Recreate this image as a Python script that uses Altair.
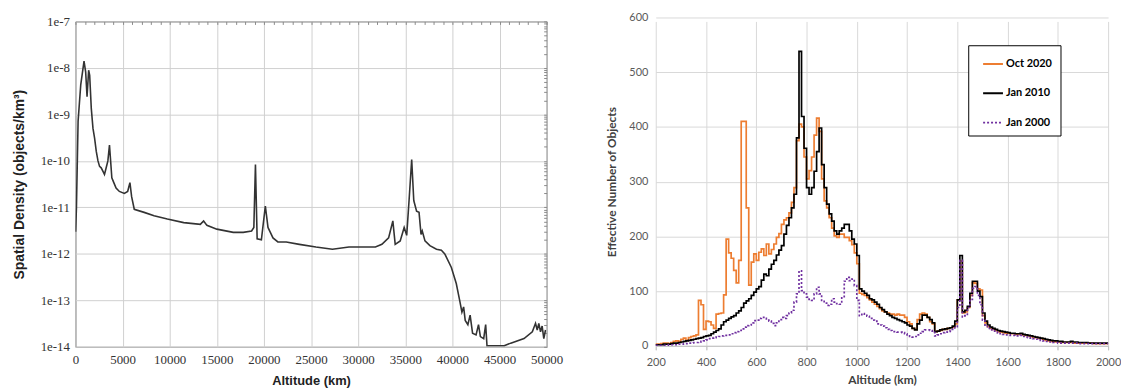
import altair as alt
import pandas as pd

# ---------------- Left panel: spatial density vs altitude ----------------
LEFT_ALT = [20, 105, 280, 560, 910, 1085, 1230, 1400, 1510, 1680, 1860, 2030, 2210, 2390,
            2560, 2730, 2910, 3080, 3260, 3440, 3610, 3710, 3860, 4070, 4310, 4660, 5190,
            5540, 5780, 5960, 6240, 7290, 8340, 9750, 11490, 13250, 13600, 13950, 15000,
            16750, 17800, 18690, 18930, 19100, 19280, 19730, 20150, 20430, 20680, 20960,
            21480, 22370, 23760, 25520, 27270, 29020, 30070, 31830, 32520, 33230, 33680,
            33930, 34460, 34880, 35150, 35400, 35680, 35900, 36200, 36460, 36670, 36800,
            37090, 37610, 38310, 38830, 39190, 39890, 40410, 40770, 41010, 41190, 41360,
            41640, 41880, 42140, 42510, 42770, 42970, 43320, 43530, 43670, 45500, 46190,
            47600, 48480, 48820, 49000, 49170, 49350, 49520, 49700, 49880]
LEFT_DENSITY = [3.0e-12, 1.0e-11, 7.1e-10, 4.3e-9, 1.4e-8, 8.1e-9, 2.4e-9, 8.9e-9, 6.9e-9,
                1.35e-9, 5.0e-10, 3.1e-10, 1.6e-10, 1.0e-10, 7.6e-11, 7.1e-11, 6.0e-11,
                5.1e-11, 7.1e-11, 1.0e-10, 2.2e-10, 1.15e-10, 4.3e-11, 3.4e-11, 2.6e-11,
                2.2e-11, 2.0e-11, 2.2e-11, 3.4e-11, 1.7e-11, 9.1e-12, 7.8e-12, 6.6e-12,
                5.6e-12, 4.7e-12, 4.3e-12, 5.1e-12, 4.1e-12, 3.4e-12, 2.9e-12, 2.9e-12,
                3.1e-12, 3.7e-12, 8.3e-11, 2.1e-12, 2.0e-12, 1.07e-11, 3.7e-12, 2.9e-12,
                2.2e-12, 1.8e-12, 1.8e-12, 1.6e-12, 1.4e-12, 1.26e-12, 1.4e-12, 1.4e-12,
                1.4e-12, 1.6e-12, 2.2e-12, 5.1e-12, 1.6e-12, 1.9e-12, 3.7e-12, 2.5e-12,
                1.4e-11, 1.07e-10, 1.4e-11, 8.3e-12, 7.8e-12, 2.6e-12, 3.1e-12, 1.9e-12,
                1.5e-12, 1.26e-12, 1.2e-12, 1.0e-12, 5.1e-13, 2.3e-13, 1.0e-13, 5.6e-14,
                7.2e-14, 3.7e-14, 3.0e-14, 4.8e-14, 1.95e-14, 1.8e-14, 3.0e-14, 1.66e-14,
                1.5e-14, 3.0e-14, 1.05e-14, 1.05e-14, 1.2e-14, 1.5e-14, 2.1e-14, 3.2e-14,
                2.3e-14, 3.2e-14, 2.1e-14, 2.8e-14, 1.5e-14, 2.3e-14]
LEFT_X_TICKS = [0, 5000, 10000, 15000, 20000, 25000, 30000, 35000, 40000, 45000, 50000]
LEFT_Y_TICKS = [1e-14, 1e-13, 1e-12, 1e-11, 1e-10, 1e-9, 1e-8, 1e-7]
LEFT_X_MINOR = list(range(0, 50001, 1000))
LEFT_Y_MINOR = [m * d for d in [1e-14, 1e-13, 1e-12, 1e-11, 1e-10, 1e-9, 1e-8]
                for m in [1, 2, 3, 4, 5, 6, 7, 8, 9]] + [1e-7]

# ---------------- Right panel: effective number of objects (10 km bins) ----------------
BIN_START = list(range(200, 2000, 10))
BIN_END = 2000
OCT_2020 = [
    3, 3, 4, 5, 5, 4, 6, 8, 9, 8,                     # 200s
    12, 14, 10, 15, 17, 18, 20, 83, 75, 30,           # 300s
    45, 44, 38, 32, 58, 59, 60, 93, 195, 170,         # 400s
    160, 138, 115, 156, 410, 410, 252, 111, 153, 168,  # 500s
    156, 171, 177, 165, 186, 168, 176, 186, 198, 205,  # 600s
    222, 230, 234, 243, 262, 289, 375, 405, 400, 345,  # 700s
    305, 320, 345, 385, 416, 392, 305, 265, 252, 234,  # 800s
    215, 201, 198, 204, 204, 198, 198, 192, 185, 170,  # 900s
    150, 96, 94, 92, 88, 84, 80, 76, 72, 68,           # 1000s
    64, 62, 60, 58, 58, 56, 58, 56, 56, 52,            # 1100s
    44, 40, 32, 30, 48, 58, 60, 58, 52, 44,            # 1200s
    40, 26, 27, 28, 30, 30, 32, 33, 34, 40,            # 1300s
    84, 155, 60, 62, 70, 92, 115, 114, 104, 102,       # 1400s
    55, 42, 35, 32, 30, 28, 26, 25, 24, 23,            # 1500s
    23, 22, 22, 21, 22, 21, 20, 19, 18, 17,            # 1600s
    16, 15, 14, 13, 12, 10, 9, 8, 8, 7,                # 1700s
    7, 6, 6, 6, 6, 6, 5, 5, 5, 5,                      # 1800s
    5, 5, 5, 5, 4, 4, 4, 4, 4, 4,                      # 1900s
]
JAN_2010 = [
    2, 2, 2, 3, 3, 3, 4, 5, 5, 6,
    7, 8, 9, 10, 11, 12, 13, 14, 15, 17,
    18, 19, 22, 25, 28, 31, 38, 44, 47, 50,
    53, 55, 60, 64, 70, 78, 82, 86, 92, 98,
    104, 108, 120, 131, 128, 140, 149, 156, 166, 175,
    183, 204, 220, 234, 252, 277, 380, 538, 419, 361,
    289, 277, 289, 319, 355, 398, 331, 289, 259, 241,
    228, 210, 204, 210, 215, 222, 222, 210, 195, 186,
    165, 104, 100, 96, 92, 86, 84, 80, 76, 70,
    66, 62, 58, 55, 52, 50, 48, 46, 44, 42,
    38, 36, 32, 29, 40, 47, 56, 56, 52, 48,
    42, 26, 27, 29, 30, 31, 32, 33, 36, 45,
    84, 165, 62, 65, 72, 96, 118, 118, 100, 90,
    60, 45, 38, 34, 32, 30, 28, 27, 26, 25,
    24, 23, 23, 22, 22, 23, 21, 20, 19, 18,
    17, 16, 15, 14, 13, 12, 11, 10, 9, 9,
    8, 8, 7, 7, 7, 8, 7, 7, 6, 6,
    6, 6, 5, 5, 5, 5, 5, 5, 5, 5,
]
JAN_2000 = [
    1, 1, 1, 1, 1, 2, 2, 2, 2, 3,
    3, 4, 4, 5, 5, 6, 6, 7, 8, 9,
    11, 13, 14, 15, 16, 17, 18, 19, 19, 20,
    22, 24, 26, 28, 31, 34, 37, 38, 42, 46,
    47, 50, 52, 50, 47, 45, 41, 37, 42, 48,
    52, 50, 55, 60, 65, 80, 95, 137, 101, 95,
    89, 85, 83, 95, 107, 95, 83, 78, 74, 76,
    86, 80, 77, 76, 90, 118, 125, 119, 122, 110,
    83, 55, 59, 58, 54, 50, 47, 45, 40, 38,
    36, 33, 30, 28, 26, 26, 25, 25, 24, 22,
    18, 17, 16, 17, 20, 23, 26, 29, 29, 28,
    27, 18, 20, 22, 24, 25, 26, 27, 30, 35,
    70, 156, 53, 55, 70, 85, 105, 108, 92, 75,
    47, 36, 32, 29, 27, 25, 23, 22, 21, 20,
    20, 19, 19, 18, 18, 19, 17, 16, 15, 14,
    13, 12, 11, 10, 9, 8, 7, 7, 6, 6,
    5, 5, 5, 5, 5, 5, 5, 5, 4, 4,
    4, 4, 4, 4, 4, 4, 4, 4, 4, 4,
]
SERIES_NAMES = ["Oct 2020", "Jan 2010", "Jan 2000"]
SERIES_COLORS = ["#ED7D31", "#000000", "#7030A0"]
SERIES_DASH = [[1, 0], [1, 0], [2, 2]]
RIGHT_X_TICKS = [200, 400, 600, 800, 1000, 1200, 1400, 1600, 1800, 2000]
RIGHT_Y_TICKS = [0, 100, 200, 300, 400, 500, 600]

# ---------------- build tables ----------------
left_df = pd.DataFrame({"alt": LEFT_ALT, "dens": LEFT_DENSITY})

rows = []
for k, (name, vals) in enumerate(zip(SERIES_NAMES, [OCT_2020, JAN_2010, JAN_2000])):
    for a, v in zip(BIN_START, vals):
        rows.append({"alt": a, "value": v, "series": name, "k": k})
    rows.append({"alt": BIN_END, "value": vals[-1], "series": name, "k": k})
right_df = pd.DataFrame(rows)

LFONT = "Liberation Sans Narrow"
RFONT = "Lato"

left_xscale = alt.Scale(domain=[0, 50000], nice=False, zero=False)
left_yscale = alt.Scale(type="log", domain=[1e-14, 1e-7], nice=False)

# ---------------- left chart ----------------
left_line = alt.Chart(left_df).mark_line(color="#333333", strokeWidth=1.6, clip=True).encode(
    x=alt.X("alt:Q", scale=left_xscale,
            axis=alt.Axis(values=LEFT_X_TICKS, format="d", title="Altitude (km)",
                          labelFlush=False, ticks=False, domain=False, labelPadding=7,
                          gridColor="#cfcfcf", labelFont=LFONT, labelFontSize=13,
                          labelColor="#333333", titleFont="Liberation Sans",
                          titleFontSize=13, titleFontWeight="bold", titleColor="#222222",
                          titlePadding=8)),
    y=alt.Y("dens:Q", scale=left_yscale,
            axis=alt.Axis(values=LEFT_Y_TICKS,
                          labelExpr="'1e' + round(log(datum.value) / LN10)",
                          title="Spatial Density (objects/km³)",
                          ticks=False, domain=False, labelPadding=6,
                          gridColor="#cfcfcf", labelFont=LFONT, labelFontSize=13,
                          labelColor="#333333", titleFont="Liberation Sans",
                          titleFontSize=14, titleFontWeight="bold", titleColor="#222222",
                          titlePadding=14)),
)
# minor tick marks drawn just inside the top and right edges of the frame
left_minor = alt.Chart(left_df).mark_point(opacity=0).encode(
    x=alt.X("alt:Q", scale=left_xscale,
            axis=alt.Axis(orient="top", values=LEFT_X_MINOR, labels=False, domain=False,
                          grid=False, tickSize=3, tickColor="#8a8a8a", offset=-3,
                          title=None)),
    y=alt.Y("dens:Q", scale=left_yscale,
            axis=alt.Axis(orient="right", values=LEFT_Y_MINOR, labels=False, domain=False,
                          grid=False, tickSize=3, tickColor="#8a8a8a", offset=-3,
                          title=None)),
)
left_spacer = alt.Chart(left_df).mark_rule(opacity=0).encode(
    x=alt.value(0), y=alt.value(-10), y2=alt.value(0)
)
left = alt.layer(left_line, left_minor, left_spacer).resolve_axis(
    x="independent", y="independent"
).properties(
    width=475, height=328,
    view=alt.ViewBackground(stroke="#555555", strokeWidth=1),
)

# ---------------- right chart ----------------
legend = alt.Legend(
    title=None, orient="none", legendX=900, legendY=24,
    strokeColor="#000000", fillColor="#ffffff", padding=8, symbolOffset=6,
    symbolType="stroke", symbolSize=400, symbolStrokeWidth=2,
    labelFont=RFONT, labelFontSize=11, labelFontWeight="bold", labelColor="#000000",
    labelOffset=2, rowPadding=13.5, cornerRadius=0,
)
right = alt.Chart(right_df).mark_line(interpolate="step-after", strokeWidth=1.7).encode(
    x=alt.X("alt:Q",
            scale=alt.Scale(domain=[200, 2000], nice=False, zero=False),
            axis=alt.Axis(values=RIGHT_X_TICKS, format="d", title="Altitude (km)",
                          labelFlush=False, gridColor="#d9d9d9", domainColor="#bfbfbf",
                          tickColor="#bfbfbf", tickSize=4, labelPadding=7,
                          labelFont=RFONT, labelFontSize=11, labelColor="#595959",
                          titleFont=RFONT, titleFontSize=12, titleFontWeight="bold",
                          titleColor="#404040", titlePadding=7)),
    y=alt.Y("value:Q",
            scale=alt.Scale(domain=[0, 600], range=[327, -4], nice=False),
            axis=alt.Axis(values=RIGHT_Y_TICKS, title="Effective Number of Objects",
                          domain=False, ticks=False, labelPadding=8,
                          gridColor="#d9d9d9", labelFont=RFONT, labelFontSize=11,
                          labelColor="#595959", titleFont=RFONT, titleFontSize=12,
                          titleFontWeight="bold", titleColor="#404040", titlePadding=10)),
    color=alt.Color("series:N", scale=alt.Scale(domain=SERIES_NAMES, range=SERIES_COLORS),
                    legend=legend),
    strokeDash=alt.StrokeDash("series:N",
                              scale=alt.Scale(domain=SERIES_NAMES, range=SERIES_DASH),
                              legend=legend),
    order=alt.Order("k:Q"),
).properties(
    width=456, height=327,
    view=alt.ViewBackground(strokeOpacity=0),
)

chart = alt.hconcat(left, right, spacing=42).properties(
    padding={"left": 3, "top": 1, "right": 0, "bottom": 0},
    background="#ffffff",
)

chart.save("out.html", embed_options={"renderer": "svg", "actions": False})
